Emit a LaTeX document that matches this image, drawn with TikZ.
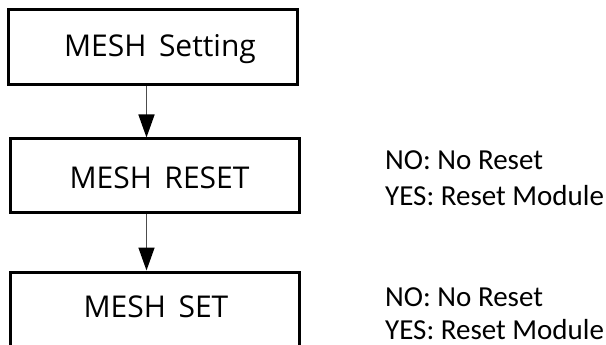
\documentclass[tikz,border=0pt]{standalone}
\usepackage{fontspec}
\setmainfont{Carlito}
\newfontfamily\boxfont{Open Sans}
\usetikzlibrary{arrows.meta}
\tikzset{
  box/.style={draw=black, line width=3pt, rectangle, minimum width=289pt, inner sep=0pt},
  boxtext/.style={font=\boxfont\fontsize{30}{36}\selectfont, anchor=base, inner sep=0pt},
  sidetext/.style={font=\fontsize{29}{34}\selectfont, anchor=base west, inner sep=0pt},
  arr/.style={draw=black!70, line width=1.5pt, -{Triangle[width=16pt,length=23pt,color=black,fill=black]}}
}
\begin{document}
\begin{tikzpicture}[x=1pt,y=-1pt]
\clip (0,0) rectangle (606,345);
\fill[white] (0,0) rectangle (606,345);
\node[box, minimum height=75pt] (b1) at (152.5,47.5) {};
\node[box, minimum height=73.5pt] (b2) at (154.5,175.75) {};
\node[box, minimum height=75pt] (b3) at (154.5,309.5) {};
\node[boxtext] (t1) at (160,57) {MESH\hspace{0.42em}Setting};
\node[boxtext] (t2) at (159.5,188) {MESH\hspace{0.42em}RESET};
\node[boxtext] (t3) at (156,317) {MESH\hspace{0.42em}SET};
\draw[arr] ([xshift=-6pt]b1.south) -- ([xshift=-8pt]b2.north);
\draw[arr] ([xshift=-8pt]b2.south) -- ([xshift=-8pt]b3.north);
\node[sidetext] (n1) at (385,169) {NO: No Reset};
\node[sidetext] (y1) at (385,205) {YES: Reset Module};
\node[sidetext] (n2) at (385,306) {NO: No Reset};
\node[sidetext] (y2) at (385,339) {YES: Reset Module};
\end{tikzpicture}
\end{document}
